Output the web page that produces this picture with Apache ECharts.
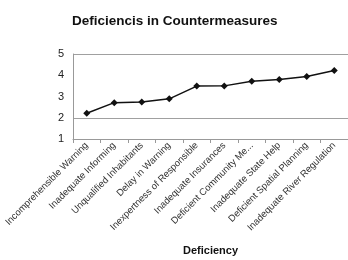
<!DOCTYPE html>
<html>
<head>
<meta charset="utf-8">
<script src="https://cdn.jsdelivr.net/npm/echarts@6/dist/echarts.min.js"></script>
<style>
  html, body { margin: 0; padding: 0; background: #fff; }
  #chart { width: 348px; height: 260px; }
</style>
</head>
<body>
<div id="chart"></div>
<script>
var categories = ['Incomprehensible Warning', 'Inadequate Informing', 'Unqualified Inhabitants',
    'Delay in Warning', 'Inexpertness of Responsible', 'Inadequate Insurances',
    'Deficient Community Me...', 'Inadequate State Help', 'Deficient Spatial Planning',
    'Inadequate River Regulation'];
var scores = [2.21, 2.71, 2.74, 2.89, 3.49, 3.50, 3.72, 3.80, 3.94, 4.22];
var yTicks = [1, 2, 3, 4, 5];

var chart = echarts.init(document.getElementById('chart'));

var option = {
    backgroundColor: '#fff',
    animation: false,
    textStyle: { fontFamily: 'Liberation Sans' },
    title: {
        text: 'Deficiencis in Countermeasures',
        left: 67,
        top: 9,
        textStyle: { fontSize: 13.5, fontWeight: 'bold', color: '#111' }
    },
    grid: {
        left: 73,
        right: -2,
        top: 54,
        bottom: 121
    },
    xAxis: {
        type: 'category',
        data: categories,
        boundaryGap: true,
        name: 'Deficiency',
        nameLocation: 'middle',
        nameGap: 106,
        nameTextStyle: { fontSize: 11, fontWeight: 'bold', color: '#111' },
        axisLine: { lineStyle: { color: '#999' } },
        axisTick: { show: true, length: 4, lineStyle: { color: '#999' } },
        axisLabel: { rotate: 45, fontSize: 9.5, color: '#333', margin: 5, interval: 0 }
    },
    yAxis: {
        type: 'value',
        min: yTicks[0],
        max: yTicks[yTicks.length - 1],
        interval: 1,
        axisLine: { show: true, lineStyle: { color: '#999' } },
        axisTick: { show: false },
        axisLabel: { fontSize: 11, color: '#222', margin: 9 },
        splitLine: {
            show: true,
            lineStyle: { color: ['rgba(0,0,0,0)', '#a0a0a0', 'rgba(0,0,0,0)', 'rgba(0,0,0,0)', '#a0a0a0'], width: 1 }
        }
    },
    series: [{
        type: 'line',
        data: scores,
        symbol: 'diamond',
        symbolSize: 7,
        itemStyle: { color: '#111' },
        lineStyle: { color: '#111', width: 1.5 }
    }]
};

chart.setOption(option);
</script>
</body>
</html>
